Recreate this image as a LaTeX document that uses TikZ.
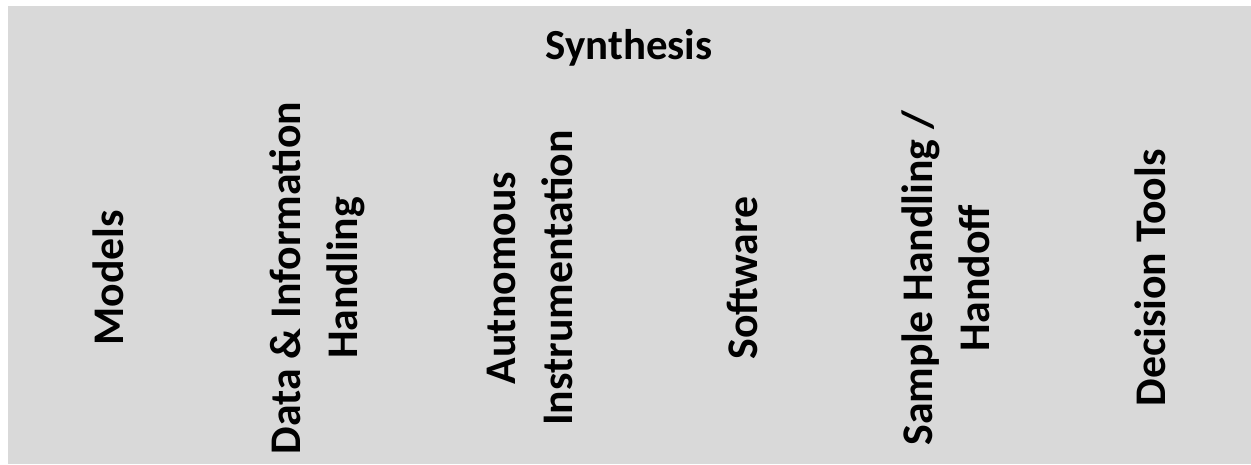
\documentclass[tikz,border=0pt]{standalone}
\usepackage{fontspec}
\setmainfont{Carlito}
\usepackage{tikz}
\usetikzlibrary{positioning}
\definecolor{panelgrey}{HTML}{D9D9D9}

\begin{document}
\begin{tikzpicture}[
    heading/.style={font=\bfseries\fontsize{12.2}{16}\selectfont, inner sep=0pt},
    area/.style={font=\bfseries\fontsize{12.45}{16.2}\selectfont, inner sep=0pt, rotate=90, align=center}]
    \useasboundingbox (0,0) rectangle (12.51,-4.64);
    \fill[panelgrey] (0.08,-0.06) rectangle (12.51,-4.64);

    \node[heading, anchor=base] (syn) at (6.29,-0.59) {Synthesis};

    % one column per area, rotated
    \node[area] (mod) at (1.08,-2.78) {Models};
    \node[area] (dat) at (3.17,-2.78) {Data \& Information\\Handling};
    \node[area] (aut) at (5.30,-2.78) {Autnomous\\Instrumentation};
    \node[area] (sw)  at (7.42,-2.78) {Software};
    \node[area] (smp) at (9.46,-2.78) {Sample Handling /\\Handoff};
    \node[area] (dec) at (11.50,-2.78) {Decision Tools};
\end{tikzpicture}
\end{document}
